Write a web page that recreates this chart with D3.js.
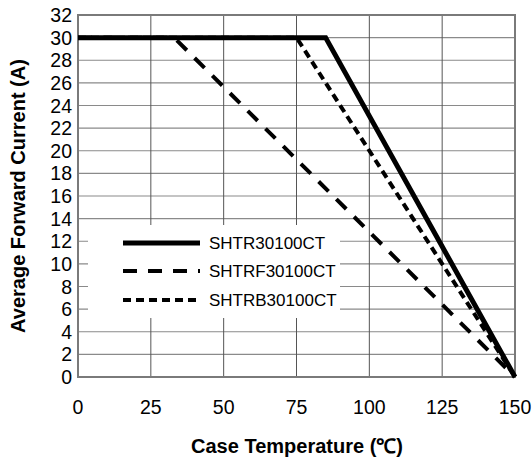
<!DOCTYPE html>
<html>
<head>
<meta charset="utf-8">
<script src="https://cdn.jsdelivr.net/npm/d3@7"></script>
<style>
  body { margin: 0; background: #fff; }
  text { font-family: "Liberation Sans", Arial, sans-serif; }
</style>
</head>
<body>
<div id="chart"></div>
<script>
const WIDTH = 532;
const HEIGHT = 465;

const xTicks = [0, 25, 50, 75, 100, 125, 150];
const yTicks = [0, 2, 4, 6, 8, 10, 12, 14, 16, 18, 20, 22, 24, 26, 28, 30, 32];

const seriesNames = ["SHTR30100CT", "SHTRF30100CT", "SHTRB30100CT"];
// derating curves: [temperature, current]
const shtr  = [[0, 30], [85, 30], [150, 0]];
const shtrf = [[0, 30], [33, 30], [150, 0]];
const shtrb = [[0, 30], [75, 30], [150, 0]];

const margin = { left: 78, right: 17, top: 15, bottom: 88 };

const x = d3.scaleLinear().domain([0, 150]).range([margin.left, WIDTH - margin.right]);
const y = d3.scaleLinear().domain([0, 32]).range([HEIGHT - margin.bottom, margin.top]);

const svg = d3.select("#chart").append("svg")
  .attr("width", WIDTH)
  .attr("height", HEIGHT);

// grid
svg.append("g")
  .selectAll("line")
  .data(yTicks.slice(1, -1))
  .enter().append("line")
  .attr("x1", x(0)).attr("x2", x(150))
  .attr("y1", d => y(d)).attr("y2", d => y(d))
  .attr("stroke", "#8a8a8a").attr("stroke-width", 1.2);

svg.append("g")
  .selectAll("line")
  .data(xTicks.slice(1, -1))
  .enter().append("line")
  .attr("x1", d => x(d)).attr("x2", d => x(d))
  .attr("y1", y(0)).attr("y2", y(32))
  .attr("stroke", "#555").attr("stroke-width", 1);

// legend background hides grid
const leg = { x0: x(0) + 10, x1: 340, y0: 225, y1: 318 };
svg.append("rect")
  .attr("x", leg.x0).attr("y", leg.y0)
  .attr("width", leg.x1 - leg.x0).attr("height", leg.y1 - leg.y0)
  .attr("fill", "#fff");

// frame
svg.append("rect")
  .attr("x", x(0)).attr("y", y(32))
  .attr("width", x(150) - x(0)).attr("height", y(0) - y(32))
  .attr("fill", "none").attr("stroke", "#7a7a7a").attr("stroke-width", 2);

// curves
const line = d3.line().x(d => x(d[0])).y(d => y(d[1]));
const styles = [
  { data: shtr,  width: 5,   dash: null },
  { data: shtrf, width: 4,   dash: "14,11" },
  { data: shtrb, width: 4,   dash: "8,5" }
];

styles.slice().reverse().forEach(s => {
  svg.append("path")
    .attr("d", line(s.data))
    .attr("fill", "none")
    .attr("stroke", "#000")
    .attr("stroke-width", s.width)
    .attr("stroke-dasharray", s.dash);
});

// ticks labels
svg.append("g")
  .selectAll("text")
  .data(yTicks)
  .enter().append("text")
  .attr("x", 72)
  .attr("y", d => y(d))
  .attr("dy", "0.36em")
  .attr("text-anchor", "end")
  .style("font-size", "19.5px")
  .text(d => d);

svg.append("g")
  .selectAll("text")
  .data(xTicks)
  .enter().append("text")
  .attr("x", d => x(d))
  .attr("y", 414)
  .attr("text-anchor", "middle")
  .style("font-size", "19.5px")
  .text(d => d);

// axis titles
svg.append("text")
  .attr("x", 297).attr("y", 453)
  .attr("text-anchor", "middle")
  .style("font-size", "20px").style("font-weight", "700")
  .text("Case Temperature (℃)");

svg.append("text")
  .attr("transform", `translate(25, 196) rotate(-90)`)
  .attr("text-anchor", "middle")
  .style("font-size", "20px").style("font-weight", "700")
  .text("Average Forward Current (A)");

// legend
const legRows = [243, 271, 300];
styles.forEach((s, i) => {
  svg.append("line")
    .attr("x1", 123).attr("x2", 200)
    .attr("y1", legRows[i]).attr("y2", legRows[i])
    .attr("stroke", "#000")
    .attr("stroke-width", s.width)
    .attr("stroke-dasharray", s.dash);
  svg.append("text")
    .attr("x", 209).attr("y", legRows[i])
    .attr("dy", "0.36em")
    .style("font-size", "17px")
    .text(seriesNames[i]);
});
</script>
</body>
</html>
